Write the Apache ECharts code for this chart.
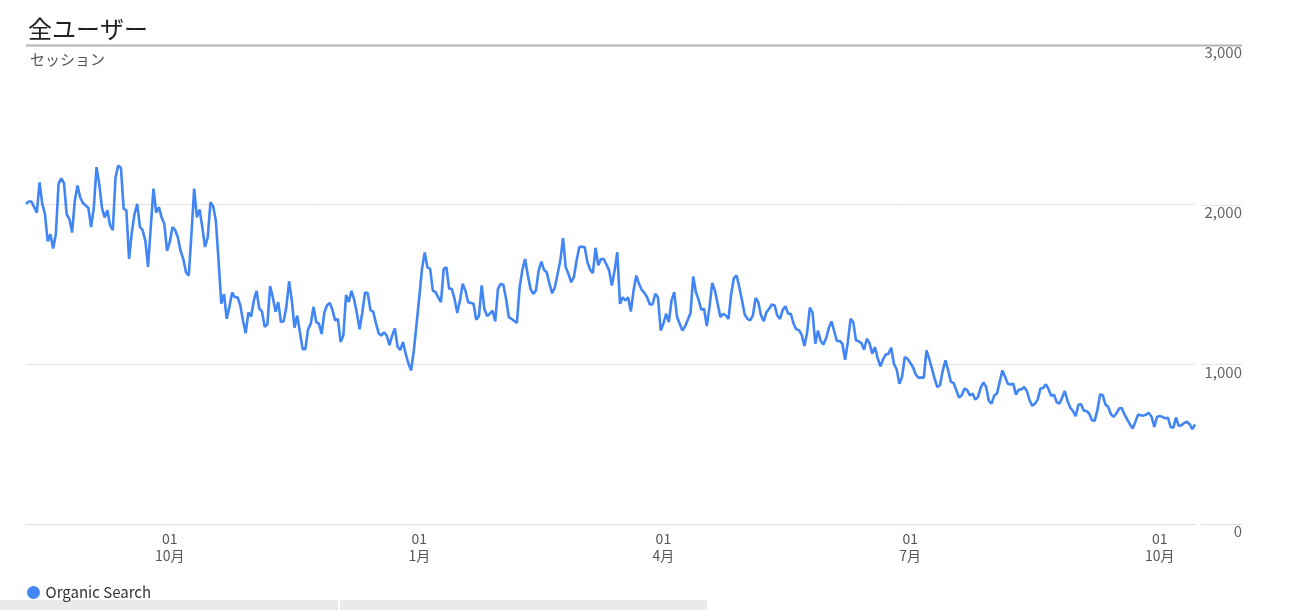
<!DOCTYPE html>
<html>
<head>
<meta charset="utf-8">
<script src="https://cdn.jsdelivr.net/npm/echarts@6/dist/echarts.min.js"></script>
<style>
  html, body { margin: 0; padding: 0; background: #fff; }
  #chart { width: 1298px; height: 610px; }
</style>
</head>
<body>
<div id="chart"></div>
<script>
// セッション（日別） - 期間ごとに分けて保持
const startDate = '2018-08-09';
const sessionsAugSep = [
  2005, 2020, 2020, 1985, 1950, 2140, 2005, 1940, 1770, 1815,
  1725, 1815, 2130, 2165, 2135, 1940, 1910, 1825, 2025, 2120,
  2045, 2010, 1995, 1980, 1860, 1980, 2235, 2130, 1980, 1920,
  1965, 1870, 1840, 2170, 2245, 2230, 1975, 1965, 1660, 1825,
  1940, 2005, 1860, 1840, 1775, 1610, 1860, 2100, 1950, 1985,
  1920, 1880, 1710
];
const sessionsOctDec = [
  1765, 1860, 1840, 1795, 1710, 1660, 1575, 1555, 1815, 2100,
  1920, 1970, 1860, 1735, 1795, 2015, 1990, 1900, 1650, 1380,
  1440, 1285, 1360, 1450, 1420, 1420, 1370, 1275, 1195, 1325,
  1300, 1400, 1460, 1350, 1330, 1235, 1250, 1490, 1420, 1330,
  1390, 1265, 1270, 1360, 1520, 1400, 1230, 1305, 1200, 1095,
  1095, 1220, 1255, 1360, 1265, 1255, 1190, 1325, 1370, 1385,
  1340, 1275, 1285, 1140, 1180, 1435, 1390, 1460, 1405, 1320,
  1220, 1325, 1450, 1445, 1340, 1330, 1260, 1195, 1180, 1200,
  1180, 1120, 1180, 1225, 1110, 1090, 1140, 1065, 1005, 962,
  1087, 1254
];
const sessionsJanMar = [
  1421, 1598, 1700, 1608, 1598, 1462, 1452, 1420, 1389, 1598,
  1608, 1473, 1473, 1410, 1321, 1400, 1504, 1462, 1389, 1385,
  1379, 1279, 1302, 1494, 1348, 1302, 1317, 1337, 1269, 1473,
  1504, 1498, 1410, 1296, 1285, 1271, 1260, 1483, 1590, 1660,
  1560, 1473, 1441, 1462, 1587, 1643, 1591, 1577, 1504, 1445,
  1483, 1566, 1650, 1790, 1608, 1566, 1514, 1546, 1650, 1735,
  1737, 1733, 1639, 1594, 1571, 1730, 1620, 1660, 1660, 1625,
  1587, 1494, 1587, 1702, 1379, 1420, 1400, 1420, 1331, 1462,
  1556, 1504, 1467, 1448, 1420, 1375, 1375, 1441, 1420, 1212
];
const sessionsAprJun = [
  1254, 1317, 1264, 1400, 1452, 1300, 1254, 1212, 1237, 1279,
  1321, 1550, 1452, 1404, 1341, 1348, 1240, 1358, 1510, 1462,
  1379, 1296, 1317, 1306, 1285, 1441, 1541, 1556, 1483, 1400,
  1310, 1285, 1275, 1306, 1416, 1389, 1306, 1271, 1327, 1348,
  1375, 1369, 1306, 1285, 1341, 1364, 1317, 1317, 1254, 1219,
  1214, 1185, 1115, 1200, 1355, 1323, 1129, 1212, 1146, 1125,
  1164, 1227, 1269, 1206, 1146, 1146, 1129, 1029, 1139, 1285,
  1264, 1150, 1144, 1133, 1091, 1160, 1133, 1067, 1108, 1039,
  987, 1031, 1062, 1067, 1104, 1004, 969, 879, 921, 1046,
  1035
];
const sessionsJulSep = [
  1010, 983, 937, 917, 917, 917, 1087, 1035, 973, 910,
  858, 869, 962, 1025, 962, 890, 883, 838, 792, 806,
  848, 838, 806, 817, 779, 796, 854, 887, 858, 771,
  754, 806, 817, 890, 962, 921, 879, 873, 879, 810,
  842, 842, 858, 833, 775, 740, 754, 779, 848, 852,
  875, 844, 802, 810, 764, 754, 791, 833, 771, 729,
  708, 675, 746, 750, 710, 708, 692, 650, 646, 712,
  812, 806, 748, 733, 687, 671, 692, 723, 727, 685,
  656, 625, 598, 639, 685, 681, 679, 685, 696, 671,
  608, 671
];
const sessionsOct = [677, 671, 662, 666, 608, 602, 666, 614, 619, 633, 640, 625, 594, 623];
const yTicks = [0, 1000, 2000, 3000];
const tickMonths = [1, 4, 7, 10];

const sessions = [].concat(sessionsAugSep, sessionsOctDec, sessionsJanMar,
  sessionsAprJun, sessionsJulSep, sessionsOct);

// 日付カテゴリ
const dates = sessions.map((_, i) => {
  const d = new Date(startDate + 'T00:00:00Z');
  d.setUTCDate(d.getUTCDate() + i);
  return d.toISOString().slice(0, 10);
});

const isTick = (value) => {
  const m = parseInt(value.slice(5, 7), 10);
  return value.slice(8, 10) === '01' && tickMonths.indexOf(m) >= 0;
};

const font = '"Noto Sans CJK JP", "Noto Sans", sans-serif';
const chartInstance = echarts.init(document.getElementById('chart'));

const option = {
  animation: false,
  textStyle: { fontFamily: font },
  title: [
    {
      text: '全ユーザー',
      left: 23,
      top: 12,
      textStyle: { fontSize: 24, fontWeight: 'normal', color: '#212121', fontFamily: font }
    },
    {
      text: 'セッション',
      left: 25,
      top: 47,
      textStyle: { fontSize: 15, fontWeight: 'normal', color: '#555', fontFamily: font }
    }
  ],
  legend: {
    left: 22,
    top: 580,
    icon: 'circle',
    itemWidth: 14,
    itemHeight: 13,
    itemGap: 10,
    textStyle: { fontSize: 15, color: '#333', fontFamily: font }
  },
  grid: { left: 26, right: 103, top: 45, bottom: 86, containLabel: false },
  xAxis: {
    type: 'category',
    data: dates,
    boundaryGap: false,
    axisLine: { lineStyle: { color: '#dcdcdc' } },
    axisTick: { show: false },
    splitLine: { show: false },
    axisLabel: {
      interval: (index, value) => isTick(value),
      formatter: (value) => '01\n' + parseInt(value.slice(5, 7), 10) + '月',
      color: '#555',
      fontSize: 14,
      lineHeight: 17,
      margin: 6,
      fontFamily: font
    }
  },
  yAxis: {
    type: 'value',
    position: 'right',
    min: yTicks[0],
    max: yTicks[yTicks.length - 1],
    interval: 1000,
    axisLine: { show: false },
    axisTick: { show: false },
    splitLine: { lineStyle: { color: '#e4e4e4' } },
    axisLabel: {
      formatter: (v) => v.toLocaleString('en-US'),
      align: 'right',
      verticalAlign: 'top',
      margin: 47,
      color: '#666',
      fontSize: 15,
      fontFamily: font
    }
  },
  series: [
    {
      name: 'Organic Search',
      type: 'line',
      data: sessions,
      symbol: 'none',
      itemStyle: { color: '#4285f4' },
      lineStyle: { color: '#4285f4', width: 2.6 },
      z: 5
    }
  ]
};
chartInstance.setOption(option);

// 軸ラベル下の罫線の延長とタイトル下線
const graphics = [];
yTicks.forEach((v) => {
  const y = Math.round(chartInstance.convertToPixel({ yAxisIndex: 0 }, v)) + 0.5;
  if (v === yTicks[yTicks.length - 1]) {
    graphics.push({
      type: 'line',
      shape: { x1: 26, y1: y, x2: 1242, y2: y },
      style: { stroke: '#b4b4b4', lineWidth: 2 },
      z: 10
    });
  } else {
    graphics.push({
      type: 'line',
      shape: { x1: 1201, y1: y, x2: 1242, y2: y },
      style: { stroke: v === 0 ? '#dcdcdc' : '#e4e4e4', lineWidth: 1 }
    });
  }
});
graphics.push(
  { type: 'rect', shape: { x: 0, y: 600, width: 338, height: 10 }, style: { fill: '#e9eaeb' } },
  { type: 'rect', shape: { x: 340, y: 600, width: 367, height: 10 }, style: { fill: '#e9eaeb' } }
);
chartInstance.setOption({ graphic: graphics });
</script>
</body>
</html>
